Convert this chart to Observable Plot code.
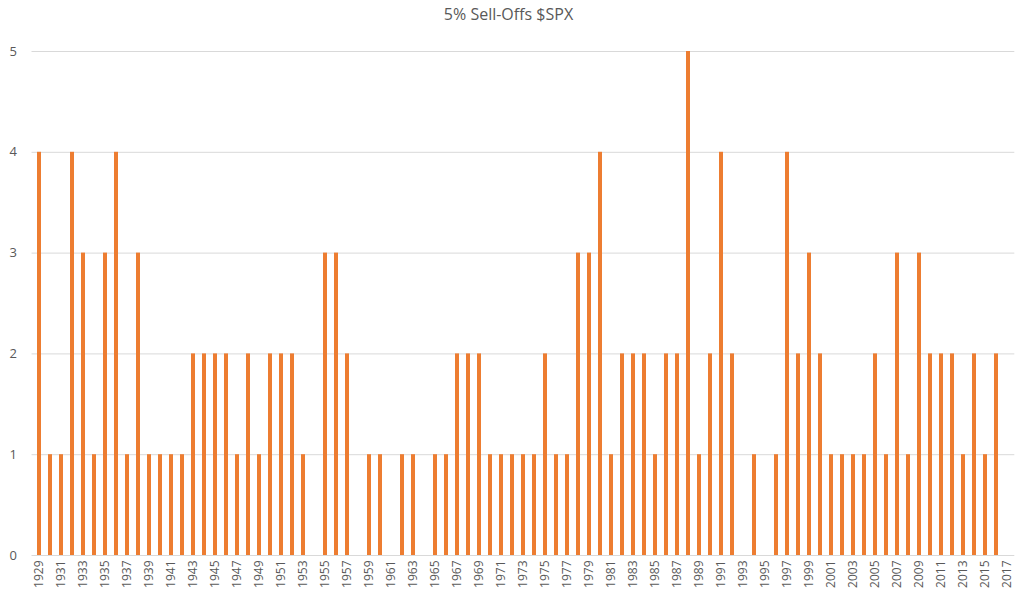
<!DOCTYPE html>
<html>
<head>
<meta charset="utf-8">
<script src="https://cdn.jsdelivr.net/npm/d3@7"></script>
<script src="https://cdn.jsdelivr.net/npm/@observablehq/plot@0.6"></script>
<style>
  html, body { margin: 0; padding: 0; background: #fff; }
  #title { height: 28px; line-height: 28px; text-align: center; font-family: "Open Sans", sans-serif; font-size: 16px; color: #595959; }
</style>
</head>
<body>
<div id="title">5% Sell-Offs $SPX</div>
<div id="chart"></div>
<script>
const years = d3.range(1929, 2018).map(String);
const counts = [
  4,1,1,4,3,1,3,4,1,3, // 1929-1938
  1,1,1,1,2,2,2,2,1,2, // 1939-1948
  1,2,2,2,1,0,3,3,2,0, // 1949-1958
  1,1,0,1,1,0,1,1,2,2, // 1959-1968
  2,1,1,1,1,1,2,1,1,3, // 1969-1978
  3,4,1,2,2,2,1,2,2,5, // 1979-1988
  1,2,4,2,0,1,0,1,4,2, // 1989-1998
  3,2,1,1,1,1,2,1,3,1, // 1999-2008
  3,2,2,2,1,2,1,2,0    // 2009-2017
];
const yTicks = [0, 1, 2, 3, 4, 5];
const xTicks = years.filter((y, i) => i % 2 === 0);
const data = years.map((y, i) => ({year: y, count: counts[i]}));

const chart = Plot.plot({
  width: 1017,
  height: 570,
  marginTop: 23,
  marginBottom: 43,
  marginLeft: 31.5,
  marginRight: 2.7,
  style: {fontFamily: "Open Sans, sans-serif", fontSize: "12px", color: "#595959", background: "#fff"},
  x: {domain: years, paddingInner: 0.62, paddingOuter: 0.31, label: null},
  y: {domain: [0, 5], label: null},
  marks: [
    Plot.ruleY(yTicks, {stroke: "#d9d9d9", strokeOpacity: 1}),
    Plot.barY(data, {x: "year", y: "count", fill: "#ED7D31"}),
    Plot.axisY(yTicks, {tickSize: 0, tickPadding: 15, tickFormat: "d", fill: "#595959", fontSize: 13}),
    Plot.axisX(xTicks, {tickSize: 0, tickPadding: 5, tickRotate: -90, fill: "#595959", fontSize: 12})
  ]
});
document.getElementById("chart").appendChild(chart);
</script>
</body>
</html>
